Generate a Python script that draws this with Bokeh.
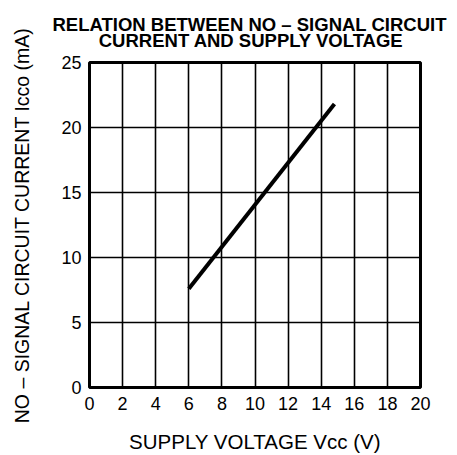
from bokeh.plotting import figure
from bokeh.models import FixedTicker, Range1d
from bokeh.embed import file_html
from bokeh.resources import INLINE

# Data
supply_voltage = [6.0, 14.8]      # Vcc (V)
circuit_current = [7.6, 21.8]     # Icco (mA)
x_ticks = [0, 2, 4, 6, 8, 10, 12, 14, 16, 18, 20]
y_ticks = [0, 5, 10, 15, 20, 25]

title_line1 = "RELATION BETWEEN NO \u2013 SIGNAL CIRCUIT"
title_line2 = "CURRENT AND SUPPLY VOLTAGE"
x_label = "SUPPLY VOLTAGE Vcc (V)"
y_label = "NO \u2013 SIGNAL CIRCUIT CURRENT Icco (mA)"

FONT = "Liberation Sans"

p = figure(frame_width=331, frame_height=325, output_backend="svg", toolbar_location=None,
           x_range=Range1d(0, 20), y_range=Range1d(0, 25),
           min_border_left=89, min_border_right=29, min_border_top=62, min_border_bottom=10)

# two-line title; second line indented so that both lines appear centred
p.title.text = title_line1 + "\n" + "\u00a0" * 9 + title_line2
p.title.text_font = FONT
p.title.text_font_size = "18.5px"
p.title.text_font_style = "bold"
p.title.text_color = "black"
p.title.text_line_height = 0.77
p.title.align = "left"
p.title.offset = -37
p.title.standoff = 23

p.line(supply_voltage, circuit_current, line_width=4, line_color="black")

p.xaxis.ticker = FixedTicker(ticks=x_ticks)
p.yaxis.ticker = FixedTicker(ticks=y_ticks)
for ax in (p.xaxis, p.yaxis):
    ax.axis_line_color = None
    ax.major_tick_line_color = None
    ax.minor_tick_line_color = None
    ax.major_label_text_font = FONT
    ax.major_label_text_font_size = "18px"
    ax.major_label_text_color = "black"
    ax.axis_label_text_font = FONT
    ax.axis_label_text_font_style = "normal"
    ax.axis_label_text_color = "black"

p.xaxis.axis_label = x_label
p.yaxis.axis_label = y_label
p.xaxis.axis_label_text_font_size = "20.5px"
p.yaxis.axis_label_text_font_size = "19.5px"
p.xaxis.major_label_standoff = 3
p.yaxis.major_label_standoff = 2
p.xaxis.axis_label_standoff = 17
p.yaxis.axis_label_standoff = 25

p.xgrid.grid_line_color = "black"
p.ygrid.grid_line_color = "black"
p.xgrid.grid_line_width = 1.6
p.ygrid.grid_line_width = 1.6
p.grid.grid_line_alpha = 1.0

p.outline_line_color = "black"
p.outline_line_width = 3
p.background_fill_color = "white"
p.border_fill_color = "white"

open("out.html", "w").write(file_html(p, INLINE))
